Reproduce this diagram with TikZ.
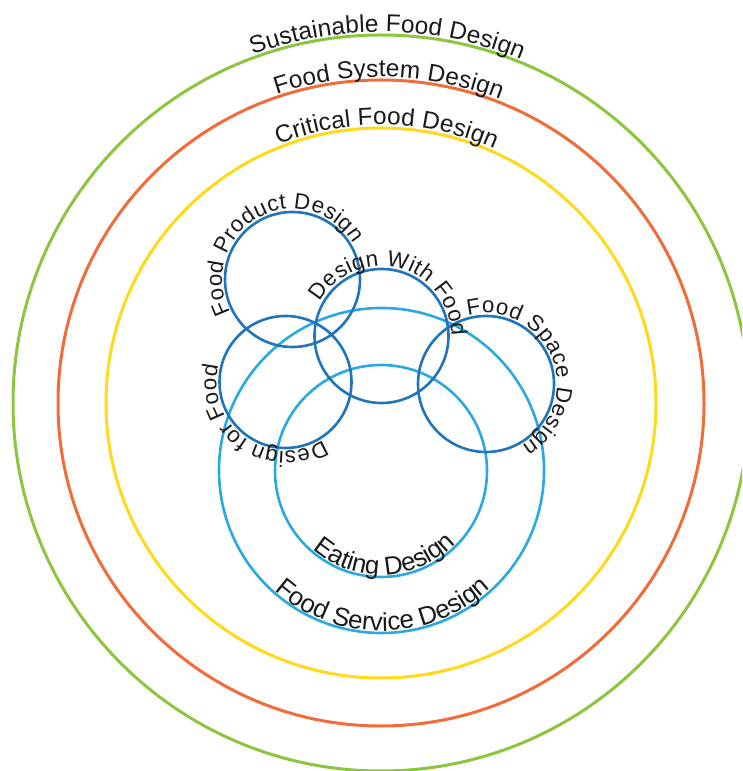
\documentclass[tikz,border=0pt]{standalone}
\usepackage{fontspec}
\setmainfont{Liberation Sans}
\usetikzlibrary{decorations.text}

\definecolor{ringgreen}{HTML}{8CC63F}
\definecolor{ringorange}{HTML}{F26B3A}
\definecolor{ringyellow}{HTML}{FFD91A}
\definecolor{darkblue}{HTML}{1F74BB}
\definecolor{lightblue}{HTML}{2AA9E0}
\definecolor{labelink}{HTML}{1A1A1A}

% label sizes: big rings, small circles, inner circles
\newcommand\ringfont{\fontsize{24.4}{24.4}\selectfont}
\newcommand\smallfont{\fontsize{22.3}{22.3}\selectfont}
\newcommand\innerfont{\fontsize{25.8}{25.8}\selectfont}

% text written outside a circle, read clockwise, centred on a given angle
% #1 centre, #2 radius, #3 middle angle, #4 half span, #5 raise, #6 text
\newcommand\outerlabel[6]{%
  \path[shift={(#1)}, decorate,
    decoration={text along path, text align=center, raise=#5,
      text={#6}, text color=labelink}]
    ({#3+#4}:#2) arc[start angle={#3+#4}, end angle={#3-#4}, radius=#2];
}
% text written inside a circle, read counter-clockwise
\newcommand\innerlabel[6]{%
  \path[shift={(#1)}, decorate,
    decoration={text along path, text align=center, raise=#5,
      text={#6}, text color=labelink}]
    ({#3-#4}:#2) arc[start angle={#3-#4}, end angle={#3+#4}, radius=#2];
}

\tikzset{
  ring/.style={line width=3pt},
  bluering/.style={line width=2.6pt},
}

\begin{document}
\begin{tikzpicture}[x=1pt,y=1pt]
  \useasboundingbox (0,0) rectangle (742,771);
  \clip (0,0) rectangle (742,771);

  % centres of the circles
  \coordinate (main)    at (381,368);
  \coordinate (product) at (292.5,491.5);
  \coordinate (withf)   at (381.5,435);
  \coordinate (space)   at (486,387);
  \coordinate (forf)    at (285.5,389);
  \coordinate (eating)  at (381,300);
  \coordinate (service) at (381.5,300.5);

  % nested rings
  \draw[ring, ringgreen]  (main) circle[radius=368];
  \draw[ring, ringorange] (main) circle[radius=323];
  \draw[ring, ringyellow] (main) circle[radius=275];

  % light blue circles
  \draw[bluering, lightblue] (service) circle[radius=162.5];
  \draw[bluering, lightblue] (eating)  circle[radius=106];

  % dark blue circles
  \draw[bluering, darkblue] (product) circle[radius=67.5];
  \draw[bluering, darkblue] (withf)   circle[radius=67];
  \draw[bluering, darkblue] (space)   circle[radius=68];
  \draw[bluering, darkblue] (forf)    circle[radius=66];

  % labels
  \outerlabel{main}{368}{89}{85}{3pt}{|\ringfont|Sustainable Food Design}
  \outerlabel{main}{323}{88.6}{85}{3pt}{|\ringfont|Food System Design}
  \outerlabel{main}{275}{88.8}{85}{3pt}{|\ringfont|Critical Food Design}

  \outerlabel{product}{67.5}{119.5}{160}{3pt}{|\smallfont|Food Product Design}
  \outerlabel{withf}{67}{75.5}{160}{3pt}{|\smallfont|Design With Food}
  \outerlabel{space}{68}{22.5}{160}{3pt}{|\smallfont|Food Space Design}
  \outerlabel{forf}{66}{-125.5}{160}{3pt}{|\smallfont|Design for Food}

  \innerlabel{eating}{106}{-87.5}{85}{2pt}{|\innerfont|Eating Design}
  \innerlabel{service}{162.5}{-89.4}{85}{2pt}{|\innerfont|Food Service Design}
\end{tikzpicture}
\end{document}
